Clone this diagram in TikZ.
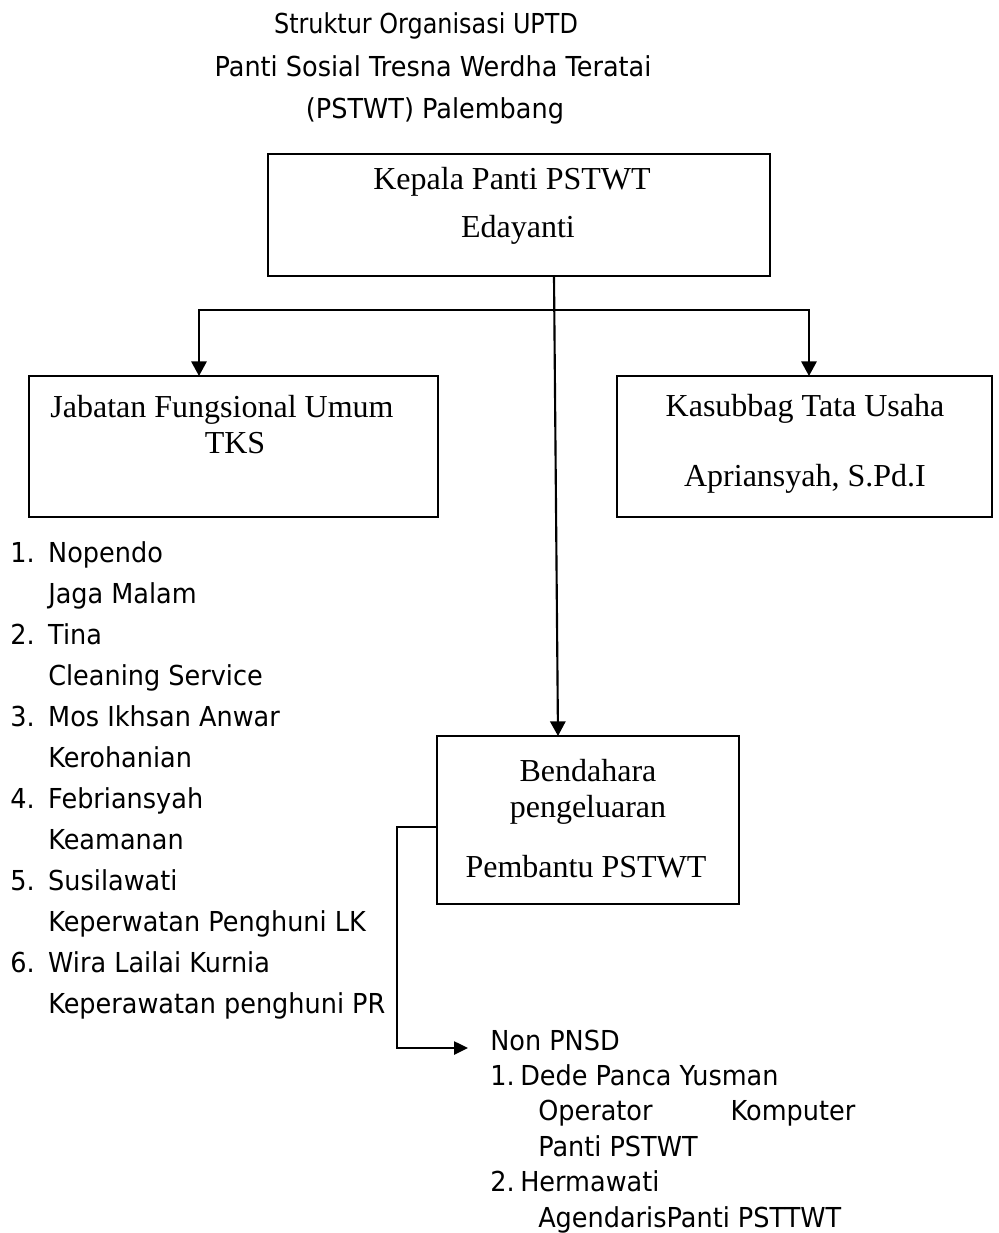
\documentclass[tikz,border=0pt]{standalone}
\usepackage{fontspec}
\setmainfont{Liberation Serif}
\newfontfamily\tahfont[FakeStretch=0.93]{DejaVu Sans}
\newfontfamily\tahnarrow[FakeStretch=0.87]{DejaVu Sans}
\usetikzlibrary{arrows.meta}
\newcommand\listfont{\tahfont\fontsize{20.6}{30.75}\selectfont}
\newcommand\rlistfont{\tahfont\fontsize{20.6}{26.55}\selectfont}
\tikzset{
  box/.style={draw, line width=1.15pt, inner sep=0pt, outer sep=0pt},
  serif/.style={font=\fontsize{24}{28}\selectfont, inner sep=0pt, anchor=base},
  ttl/.style={font=\tahfont\fontsize{20.6}{25}\selectfont, inner sep=0pt, anchor=base},
  conn/.style={line width=1.6pt},
  arr/.style={conn, -{Triangle[length=11pt,width=11.5pt]}},
  thinarr/.style={line width=1.1pt, -{Triangle[length=10.5pt,width=10pt]}}
}
\begin{document}
\begin{tikzpicture}[x=0.75pt,y=-0.75pt]
\useasboundingbox (0,0) rectangle (999,1233);
% title
\node[ttl, font=\tahnarrow\fontsize{20.6}{25}\selectfont] (title1) at (426,33) {Struktur Organisasi UPTD};
\node[ttl] (title2) at (433,76) {Panti Sosial Tresna Werdha Teratai};
\node[ttl] (title3) at (435,118) {(PSTWT) Palembang};
% boxes
\node[box, minimum width=376.5pt, minimum height=91.5pt] (kepala) at (519,215) {};
\node[box, minimum width=306.75pt, minimum height=105.75pt] (jab) at (233.5,446.5) {};
\node[box, minimum width=281.25pt, minimum height=105.75pt] (kasub) at (804.5,446.5) {};
\node[box, minimum width=226.5pt, minimum height=126pt] (bend) at (588,820) {};
% box texts
\node[serif] (kepT1) at (512,189) {Kepala Panti PSTWT};
\node[serif] (kepT2) at (518,237) {Edayanti};
\node[serif] (jabT1) at (222,417) {Jabatan Fungsional Umum};
\node[serif] (jabT2) at (235,453) {TKS};
\node[serif] (kasT1) at (805,416) {Kasubbag Tata Usaha};
\node[serif] (kasT2) at (805,486) {Apriansyah, S.Pd.I};
\node[serif] (benT1) at (588,781) {Bendahara};
\node[serif] (benT2) at (588,817) {pengeluaran};
\node[serif] (benT3) at (586,877) {Pembantu PSTWT};
% lists
\node[anchor=base west, inner sep=0pt] (tkslist) at (10,562) {\listfont
\begin{tabular}[t]{@{}l@{}}
\makebox[28.5pt][l]{1.}Nopendo\\
\makebox[28.5pt][l]{}Jaga Malam\\
\makebox[28.5pt][l]{2.}Tina\\
\makebox[28.5pt][l]{}Cleaning Service\\
\makebox[28.5pt][l]{3.}Mos Ikhsan Anwar\\
\makebox[28.5pt][l]{}Kerohanian\\
\makebox[28.5pt][l]{4.}Febriansyah\\
\makebox[28.5pt][l]{}Keamanan\\
\makebox[28.5pt][l]{5.}Susilawati\\
\makebox[28.5pt][l]{}Keperwatan Penghuni LK\\
\makebox[28.5pt][l]{6.}Wira Lailai Kurnia\\
\makebox[28.5pt][l]{}Keperawatan penghuni PR
\end{tabular}};
\node[anchor=base west, inner sep=0pt] (nonpnsd) at (490,1050) {\rlistfont
\begin{tabular}[t]{@{}l@{}}
Non PNSD\\
\makebox[22.5pt][l]{1.}Dede Panca Yusman\\
\hspace{36pt}\makebox[237.75pt][s]{Operator\hfill Komputer}\\
\hspace{36pt}Panti PSTWT\\
\makebox[22.5pt][l]{2.}Hermawati\\
\hspace{36pt}AgendarisPanti PSTTWT
\end{tabular}};
% connector points
\coordinate (kOut) at (554,276);
\coordinate (split) at (554,310);
\coordinate (jIn) at (199,376);
\coordinate (kIn) at (809,376);
\coordinate (bIn) at (558,736);
\coordinate (bOut) at (437,827);
\coordinate (bend1) at (397,827);
\coordinate (npTip) at (468,1048);
% connectors
\draw[arr] (kepala.south -| kOut) -- (bend.north -| bIn);
\draw[arr] (split) -| (jab.north -| jIn);
\draw[arr] (split) -| (kasub.north -| kIn);
\draw[thinarr] (bend.west |- bOut) -- (bend1) |- (npTip);
\end{tikzpicture}
\end{document}
